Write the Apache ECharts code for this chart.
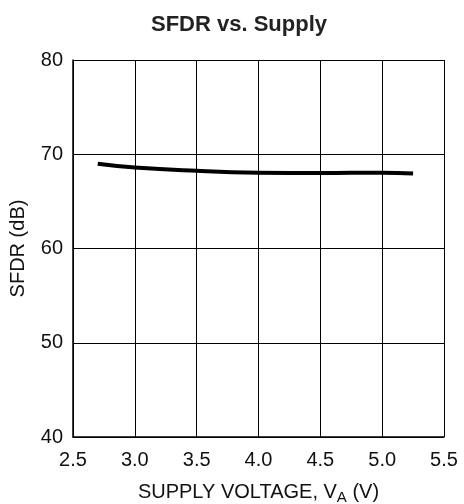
<!DOCTYPE html>
<html><head><meta charset="utf-8">
<script src="https://cdn.jsdelivr.net/npm/echarts@6/dist/echarts.min.js"></script>
<style>html,body{margin:0;padding:0;background:#fff}#c{width:464px;height:504px}</style>
</head><body><div id="c"></div>
<script>
var voltage = [2.7, 3.0, 3.5, 4.0, 4.5, 5.0, 5.25];
var sfdr = [69.0, 68.6, 68.25, 68.05, 68.0, 68.05, 67.95];
var xTicks = ['2.5','3.0','3.5','4.0','4.5','5.0','5.5'];
var yTicks = ['40','50','60','70','80'];

var chart = echarts.init(document.getElementById('c'));
var font = '"Liberation Sans", Arial, sans-serif';
chart.setOption({
  animation: false,
  title: {text: 'SFDR vs. Supply', left: 234, textAlign: 'center', top: 9,
    textStyle: {fontFamily: font, fontSize: 22, fontWeight: 'bold', color: '#222'}},
  grid: {left: 73, top: 60, right: 20, bottom: 67, containLabel: false, outerBoundsMode: 'none'},
  xAxis: {type: 'value', min: 2.5, max: 5.5, interval: 0.5,
    name: '{n|SUPPLY VOLTAGE, V}{s|A}{n| (V)}', nameLocation: 'middle', nameGap: 43,
    nameTextStyle: {rich: {n: {fontFamily: font, fontSize: 20, color: '#111'},
      s: {fontFamily: font, fontSize: 15, color: '#111', verticalAlign: 'bottom', padding: [10,0,0,0]}}},
    axisLine: {show: true, lineStyle: {color: '#000', width: 1.5}},
    axisTick: {show: false},
    axisLabel: {margin: 13, fontFamily: font, fontSize: 20, color: '#111',
      formatter: function(v){ var s = v.toFixed(1); return xTicks.indexOf(s) >= 0 ? s : ''; }},
    splitLine: {show: true, lineStyle: {color: '#000', width: 1}}
  },
  yAxis: {type: 'value', min: 40, max: 80, interval: 10,
    name: 'SFDR (dB)', nameLocation: 'middle', nameGap: 45,
    nameTextStyle: {fontFamily: font, fontSize: 20, color: '#111'},
    axisLine: {show: true, lineStyle: {color: '#000', width: 1.5}},
    axisTick: {show: false},
    axisLabel: {margin: 10, fontFamily: font, fontSize: 20, color: '#111',
      formatter: function(v){ var s = String(v); return yTicks.indexOf(s) >= 0 ? s : ''; }},
    splitLine: {show: true, lineStyle: {color: '#000', width: 1}}
  },
  series: [{type: 'line', data: voltage.map(function(v,i){return [v, sfdr[i]];}),
    smooth: true, symbol: 'none', lineStyle: {color: '#000', width: 4}}]
});
</script></body></html>
